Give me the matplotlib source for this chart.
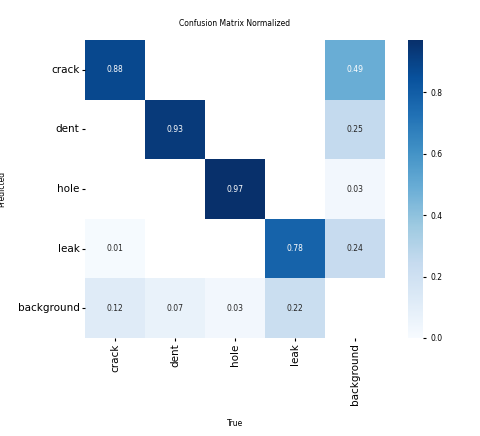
import numpy as np
import matplotlib
matplotlib.use("Agg")
import matplotlib.pyplot as plt
import seaborn as sns

names = ["crack", "dent", "hole", "leak", "background"]
row_crack = [0.88, 0, 0, 0, 0.49]
row_dent = [0, 0.93, 0, 0, 0.25]
row_hole = [0, 0, 0.97, 0, 0.03]
row_leak = [0.01, 0, 0, 0.78, 0.24]
row_bg = [0.12, 0.07, 0.03, 0.22, 0]

m = np.array([row_crack, row_dent, row_hole, row_leak, row_bg])
m[m < 0.005] = np.nan

fig = plt.figure(figsize=(4.8, 4.36), dpi=100)
ax = fig.add_axes([0.177, 0.225, 0.625, 0.683])
cax = fig.add_axes([0.85, 0.225, 0.031, 0.683])
sns.heatmap(m, ax=ax, cbar_ax=cax, annot=True, annot_kws={"size": 5.5},
            cmap="Blues", fmt=".2f", square=False, vmin=0.0,
            xticklabels=names, yticklabels=names)
ax.set_facecolor((1, 1, 1))
ax.tick_params(axis="both", labelsize=7.5, length=2, pad=2)
ax.set_xticklabels(names, rotation=90)
ax.set_yticklabels(names, rotation=0)
cax.tick_params(labelsize=5.5, length=2)
ax.set_xlabel("True", fontsize=5.5, labelpad=10)
ax.set_ylabel("Predicted", fontsize=5.5, labelpad=8)
ax.set_title("Confusion Matrix Normalized", fontsize=5.5, pad=10)
fig.savefig("out.png", dpi=100)
